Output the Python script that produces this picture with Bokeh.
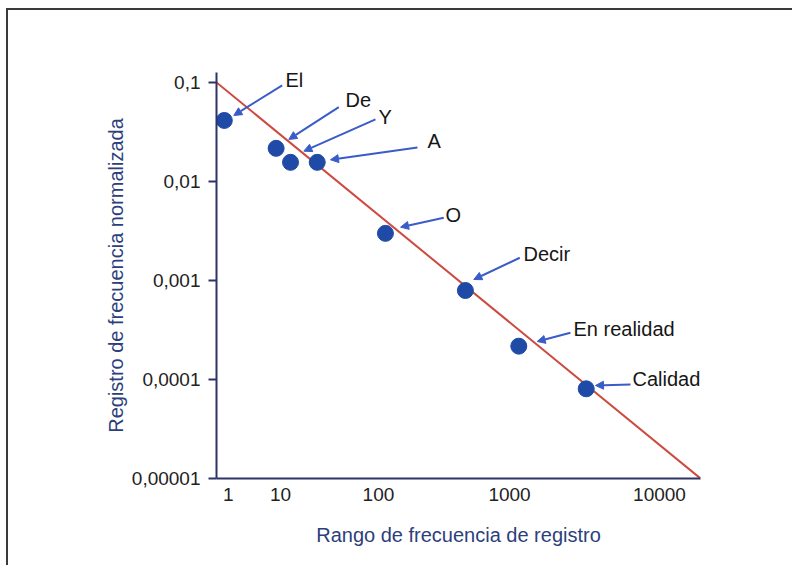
from bokeh.plotting import figure
from bokeh.models import (Range1d, FixedTicker, ColumnDataSource, LabelSet, Arrow,
                          NormalHead)
from bokeh.core.properties import value
from bokeh.embed import file_html
from bokeh.resources import INLINE

# ---- data ----
words = ["El", "De", "Y", "A", "O", "Decir", "En realidad", "Calidad"]
word_rank = [1.16, 3.11, 4.09, 6.8, 24.9, 114, 315, 1136]
word_freq = [0.0413, 0.0216, 0.0156, 0.0156, 0.00299, 0.000792, 0.000217, 0.0000805]

zipf_rank = [1, 10000]
zipf_freq = [0.1, 0.00001]

y_tick_values = [0.1, 0.01, 0.001, 0.0001, 0.00001]
y_tick_labels = ["0,1", "0,01", "0,001", "0,0001", "0,00001"]
x_tick_values = [1.249, 3.38, 21.8, 264, 4585]
x_tick_labels = ["1", "10", "100", "1000", "10000"]

# annotation anchors (data units)
label_rank = [3.72, 11.65, 21.8, 55.4, 78.1, 344.5, 892, 2742]
label_freq = [0.1047, 0.0658, 0.0443, 0.02535, 0.004535, 0.001831, 0.00032, 0.0001]
arrow_start_rank = [3.49, 10.25, 20.6, 45.8, 75.6, 321, 842, 2640]
arrow_start_freq = [0.0932, 0.0563, 0.0423, 0.02205, 0.004298, 0.001696, 0.000296, 0.000089]
arrow_tip_rank = [1.39, 3.96, 5.27, 8.75, 33.2, 133.8, 447, 1356]
arrow_tip_freq = [0.0464, 0.02656, 0.02023, 0.01656, 0.003455, 0.001023, 0.000242, 0.000087]

FONT = "Liberation Sans"
NAVY = "#2c3f7c"
AXIS = "#2e3566"
BLUE = "#3a5cc8"

p = figure(width=786, height=557, x_axis_type="log", y_axis_type="log",
           x_range=Range1d(1, 10000), y_range=Range1d(0.00001, 0.126),
           output_backend="svg", toolbar_location=None,
           min_border_left=208, min_border_right=94, min_border_top=62,
           min_border_bottom=89)
p.outline_line_color = None
p.xgrid.grid_line_color = None
p.ygrid.grid_line_color = None
p.background_fill_color = "white"
p.border_fill_color = "white"
p.styles = {"border-top": "2px solid #3a3a3a", "border-left": "2px solid #3a3a3a",
            "margin-left": "6px", "margin-top": "8px"}

# red Zipf line
p.line(zipf_rank, zipf_freq, line_color="#cc4a3f", line_width=2)

# dots
src = ColumnDataSource(dict(x=word_rank, y=word_freq))
p.scatter("x", "y", source=src, size=16, fill_color="#1f4aa6", line_color="#1f4aa6")

# arrows
asrc = ColumnDataSource(dict(sx=arrow_start_rank, sy=arrow_start_freq,
                             ex=arrow_tip_rank, ey=arrow_tip_freq))
p.add_layout(Arrow(end=NormalHead(size=8, fill_color=BLUE, line_color=BLUE, line_width=1),
                   x_start="sx", y_start="sy", x_end="ex", y_end="ey", source=asrc,
                   line_color=BLUE, line_width=2))

# labels
lsrc = ColumnDataSource(dict(x=label_rank, y=label_freq, t=words))
p.add_layout(LabelSet(x="x", y="y", text="t", source=lsrc, text_font=value(FONT),
                      text_font_size="20px", text_color="#161616",
                      text_align="left", text_baseline="middle"))

# axes
p.yaxis.ticker = FixedTicker(ticks=y_tick_values)
p.yaxis.major_label_overrides = dict(zip(y_tick_values, y_tick_labels))
p.xaxis.ticker = FixedTicker(ticks=x_tick_values)
p.xaxis.major_label_overrides = dict(zip(x_tick_values, x_tick_labels))

for ax in (p.xaxis[0], p.yaxis[0]):
    ax.axis_line_color = AXIS
    ax.axis_line_width = 2
    ax.minor_tick_line_color = None
    ax.major_label_text_font = FONT
    ax.major_label_text_font_size = "19px"
    ax.major_label_text_color = "#222222"
    ax.axis_label_text_font = FONT
    ax.axis_label_text_font_size = "20px"
    ax.axis_label_text_font_style = "normal"
    ax.axis_label_text_color = NAVY

p.yaxis.major_tick_line_color = AXIS
p.yaxis.major_tick_line_width = 2
p.yaxis.major_tick_out = 8
p.yaxis.major_tick_in = 0
p.yaxis.major_label_standoff = 8
p.yaxis.axis_label = "Registro de frecuencia normalizada"
p.yaxis.axis_label_standoff = 2

p.xaxis.major_tick_line_color = None
p.xaxis.major_tick_out = 0
p.xaxis.major_tick_in = 0
p.xaxis.major_label_standoff = 9
p.xaxis.axis_label = "Rango de frecuencia de registro"
p.xaxis.axis_label_standoff = 20

open("out.html", "w").write(file_html(p, INLINE))
